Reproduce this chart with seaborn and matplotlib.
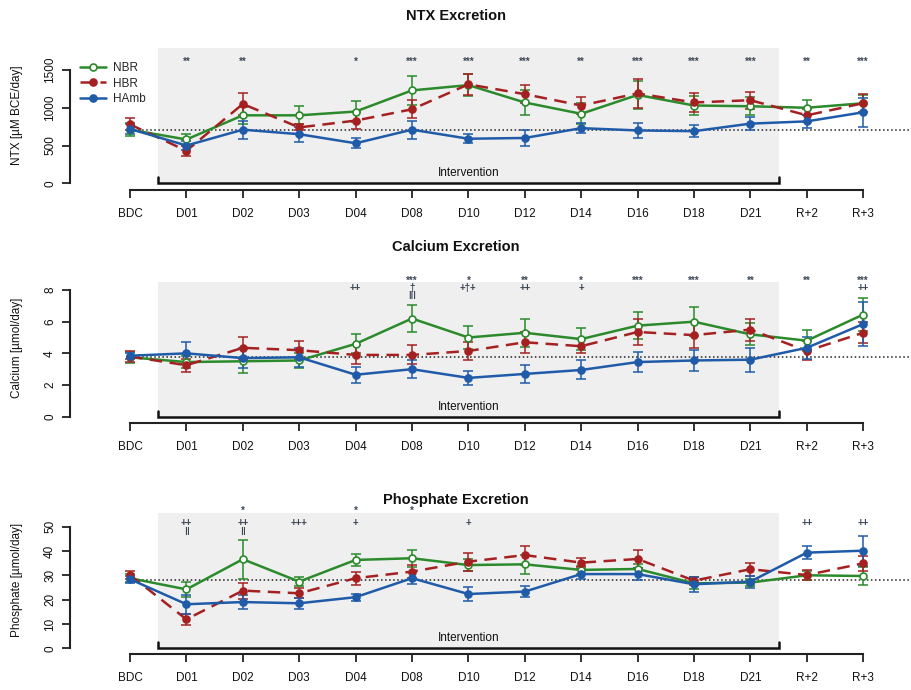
import numpy as np
import seaborn as sns
import matplotlib
matplotlib.use('Agg')
from matplotlib import pyplot as plt

days = ['BDC', 'D01', 'D02', 'D03', 'D04', 'D08', 'D10', 'D12', 'D14', 'D16', 'D18', 'D21', 'R+2', 'R+3']
groups = ['NBR', 'HBR', 'HAmb']

# NTX excretion [uM BCE/day]
ntx_nbr = [710, 580, 900, 900, 950, 1230, 1300, 1070, 920, 1170, 1030, 1020, 1000, 1060]
ntx_nbr_sd = [90, 70, 110, 120, 140, 190, 150, 170, 140, 190, 130, 120, 100, 110]
ntx_hbr = [780, 430, 1050, 740, 830, 980, 1310, 1180, 1030, 1190, 1070, 1100, 900, 1060]
ntx_hbr_sd = [80, 70, 150, 40, 110, 120, 140, 120, 110, 190, 120, 110, 90, 120]
ntx_hamb = [720, 500, 710, 650, 530, 710, 590, 600, 730, 700, 690, 790, 820, 940]
ntx_hamb_sd = [70, 60, 120, 100, 65, 120, 60, 100, 70, 100, 80, 90, 90, 190]
ntx_ref = 700
ntx_sig1 = ['', '**', '**', '', '*', '***', '***', '***', '**', '***', '***', '***', '**', '***']

# calcium excretion [umol/day]
ca_nbr = [3.75, 3.45, 3.5, 3.55, 4.6, 6.2, 5.0, 5.3, 4.9, 5.75, 6.0, 5.2, 4.8, 6.45]
ca_nbr_sd = [0.35, 0.4, 0.75, 0.5, 0.6, 0.85, 0.7, 0.9, 0.7, 0.85, 0.9, 0.7, 0.65, 1.05]
ca_hbr = [3.8, 3.25, 4.35, 4.2, 3.9, 3.9, 4.15, 4.7, 4.45, 5.35, 5.15, 5.5, 4.15, 5.3]
ca_hbr_sd = [0.35, 0.4, 0.7, 0.55, 0.6, 0.6, 0.55, 0.65, 0.45, 0.85, 0.8, 0.7, 0.6, 0.65]
ca_hamb = [3.85, 4.0, 3.7, 3.75, 2.65, 3.0, 2.45, 2.7, 2.95, 3.45, 3.55, 3.6, 4.35, 5.85]
ca_hamb_sd = [0.2, 0.7, 0.65, 0.6, 0.5, 0.55, 0.45, 0.55, 0.6, 0.65, 0.65, 0.75, 0.7, 1.4]
ca_ref = 3.75
ca_sig1 = ['', '', '', '', '', '***', '*', '**', '*', '***', '***', '**', '**', '***']
ca_sig2 = ['', '', '', '', '++', '†', '+†+', '++', '+', '', '', '', '', '++']
ca_sig3 = ['', '', '', '', '', 'ǀǀǀ', '', '', '', '', '', '', '', '']

# phosphate excretion [umol/day]
ph_nbr = [28.8, 24.2, 36.6, 27.4, 36.3, 37.0, 34.2, 34.5, 32.2, 32.6, 26.7, 27.0, 30.0, 29.7]
ph_nbr_sd = [1.7, 3.0, 8.0, 2.0, 2.3, 3.5, 2.5, 3.8, 1.8, 2.0, 2.5, 1.5, 1.8, 3.8]
ph_hbr = [30.1, 11.9, 23.7, 22.6, 28.8, 31.5, 35.6, 38.3, 35.2, 36.7, 27.8, 32.5, 30.1, 34.9]
ph_hbr_sd = [1.8, 2.2, 3.3, 2.0, 2.7, 2.7, 3.7, 3.9, 2.0, 3.7, 1.6, 2.7, 2.1, 3.1]
ph_hamb = [28.4, 18.1, 19.0, 18.5, 21.0, 28.8, 22.3, 23.3, 30.5, 30.5, 26.3, 27.4, 39.3, 40.1]
ph_hamb_sd = [1.5, 4.0, 2.7, 2.2, 1.5, 2.4, 3.0, 2.3, 2.0, 2.5, 3.0, 2.5, 2.7, 6.2]
ph_ref = 28
ph_sig1 = ['', '', '*', '', '*', '*', '', '', '', '', '', '', '', '']
ph_sig2 = ['', '++', '++', '+++', '+', '', '+', '', '', '', '', '', '++', '++']
ph_sig3 = ['', 'ǁ', 'ǁ', '', '', '', '', '', '', '', '', '', '', '']

colors = {'NBR': '#2b8a2b', 'HBR': '#a52121', 'HAmb': '#1f5ba8'}
styles = {'NBR': '-', 'HBR': (0, (5, 3)), 'HAmb': '-'}
faces = {'NBR': 'white', 'HBR': '#a52121', 'HAmb': '#1f5ba8'}
sig_color = '#3d4858'

sns.set_theme(style='white')
plt.rcParams['font.family'] = ['Liberation Sans', 'DejaVu Sans']

W, H = 912, 690
fig = plt.figure(figsize=(W / 100, H / 100), dpi=100)

# pixel geometry of the original layout
x0_pix, dx_pix = 130, 56.4
left_pix, right_pix = 70, 912
xlim = ((left_pix - x0_pix) / dx_pix, (right_pix - x0_pix) / dx_pix)
idx = np.arange(len(days))

panels = [
    dict(title='NTX Excretion', title_y=16, ylabel='NTX [µM BCE/day]',
         zero=183.3, scale=113.3 / 1500, axis=190, top=40, ticks=[0, 500, 1000, 1500],
         shade=1790, ref=ntx_ref,
         series=[(ntx_nbr, ntx_nbr_sd), (ntx_hbr, ntx_hbr_sd), (ntx_hamb, ntx_hamb_sd)],
         sigs=[(ntx_sig1, 1610)]),
    dict(title='Calcium Excretion', title_y=247, ylabel='Calcium [µmol/day]',
         zero=416.7, scale=126.7 / 8, axis=423, top=272, ticks=[0, 2, 4, 6, 8],
         shade=8.5, ref=ca_ref,
         series=[(ca_nbr, ca_nbr_sd), (ca_hbr, ca_hbr_sd), (ca_hamb, ca_hamb_sd)],
         sigs=[(ca_sig1, 8.55), (ca_sig2, 8.1), (ca_sig3, 7.65)]),
    dict(title='Phosphate Excretion', title_y=500, ylabel='Phosphate [µmol/day]',
         zero=648.3, scale=121.7 / 50, axis=654, top=505, ticks=[0, 10, 20, 30, 40, 50],
         shade=55.6, ref=ph_ref,
         series=[(ph_nbr, ph_nbr_sd), (ph_hbr, ph_hbr_sd), (ph_hamb, ph_hamb_sd)],
         sigs=[(ph_sig1, 56.3), (ph_sig2, 51.5), (ph_sig3, 47.6)]),
]

for i, p in enumerate(panels):
    ax = fig.add_axes([left_pix / W, 1 - p['axis'] / H,
                       (right_pix - left_pix) / W, (p['axis'] - p['top']) / H])
    ax.set_xlim(xlim)
    ax.set_ylim(-(p['axis'] - p['zero']) / p['scale'], (p['zero'] - p['top']) / p['scale'])
    ax.patch.set_alpha(0)

    # intervention shading + bracket
    ax.fill_between([0.5, 11.5], 0, p['shade'], color='#efefef', lw=0, zorder=0)
    tick_h = 6 / p['scale']
    ax.plot([0.5, 0.5, 11.5, 11.5], [tick_h, 0, 0, tick_h], color='#111111', lw=1.8,
            solid_joinstyle='miter', zorder=2)
    ax.annotate('Intervention', (6, 0), xytext=(0, 3), textcoords='offset points',
                ha='center', va='bottom', fontsize=8.5, color='#111111')

    ax.plot([0, xlim[1]], [p['ref'], p['ref']], ls=':', color='#222222', lw=1.1, zorder=1)

    handles = []
    for g, (vals, sds) in zip(groups, p['series']):
        ax.errorbar(idx, vals, yerr=sds, fmt='none', ecolor=colors[g], elinewidth=1.1,
                    capsize=3.5, capthick=1.1, zorder=3)
        sns.lineplot(x=idx, y=vals, ax=ax, color=colors[g], linestyle=styles[g],
                     linewidth=1.8, marker='o', markersize=5, mfc=faces[g],
                     mec=colors[g], mew=1.2, errorbar=None, legend=False, zorder=4)
        handles.append(ax.lines[-1])

    for labels, yv in p['sigs']:
        for j, s in enumerate(labels):
            if s:
                ax.text(j, yv, s, ha='center', va='center', fontsize=7, color=sig_color,
                        fontweight='bold')

    for side in ['top', 'right']:
        ax.spines[side].set_visible(False)
    ax.spines['left'].set_bounds(p['ticks'][0], p['ticks'][-1])
    ax.spines['bottom'].set_bounds(0, len(days) - 1)
    for side in ['left', 'bottom']:
        ax.spines[side].set_color('#222222')
        ax.spines[side].set_linewidth(1.5)
    ax.set_xticks(idx, days)
    ax.set_yticks(p['ticks'])
    ax.set_yticklabels([str(t) for t in p['ticks']], rotation=90, va='center')
    ax.tick_params(axis='both', direction='out', length=6, width=1.3, colors='#222222',
                   labelsize=8.5, labelcolor='#111111', bottom=True, left=True)
    ax.tick_params(axis='x', pad=7)
    ax.tick_params(axis='y', pad=4)
    ax.set_xlabel('')
    ax.set_ylabel(p['ylabel'], fontsize=8.5, color='#111111')
    ax.yaxis.set_label_coords((23 - left_pix) / (right_pix - left_pix), 0.5)
    ax.grid(False)

    fig.text(0.5, 1 - p['title_y'] / H, p['title'], ha='center', va='center',
             fontsize=10.5, fontweight='bold', color='#111111')

    if i == 0:
        ax.legend(handles, groups, loc='upper left', bbox_to_anchor=(80 / W, 1 - 62 / H),
                  bbox_transform=fig.transFigure, frameon=False, fontsize=8.5,
                  handlelength=2.2, handletextpad=0.6, labelspacing=0.3,
                  borderpad=0, borderaxespad=0)

fig.savefig('out.png', dpi=100)
